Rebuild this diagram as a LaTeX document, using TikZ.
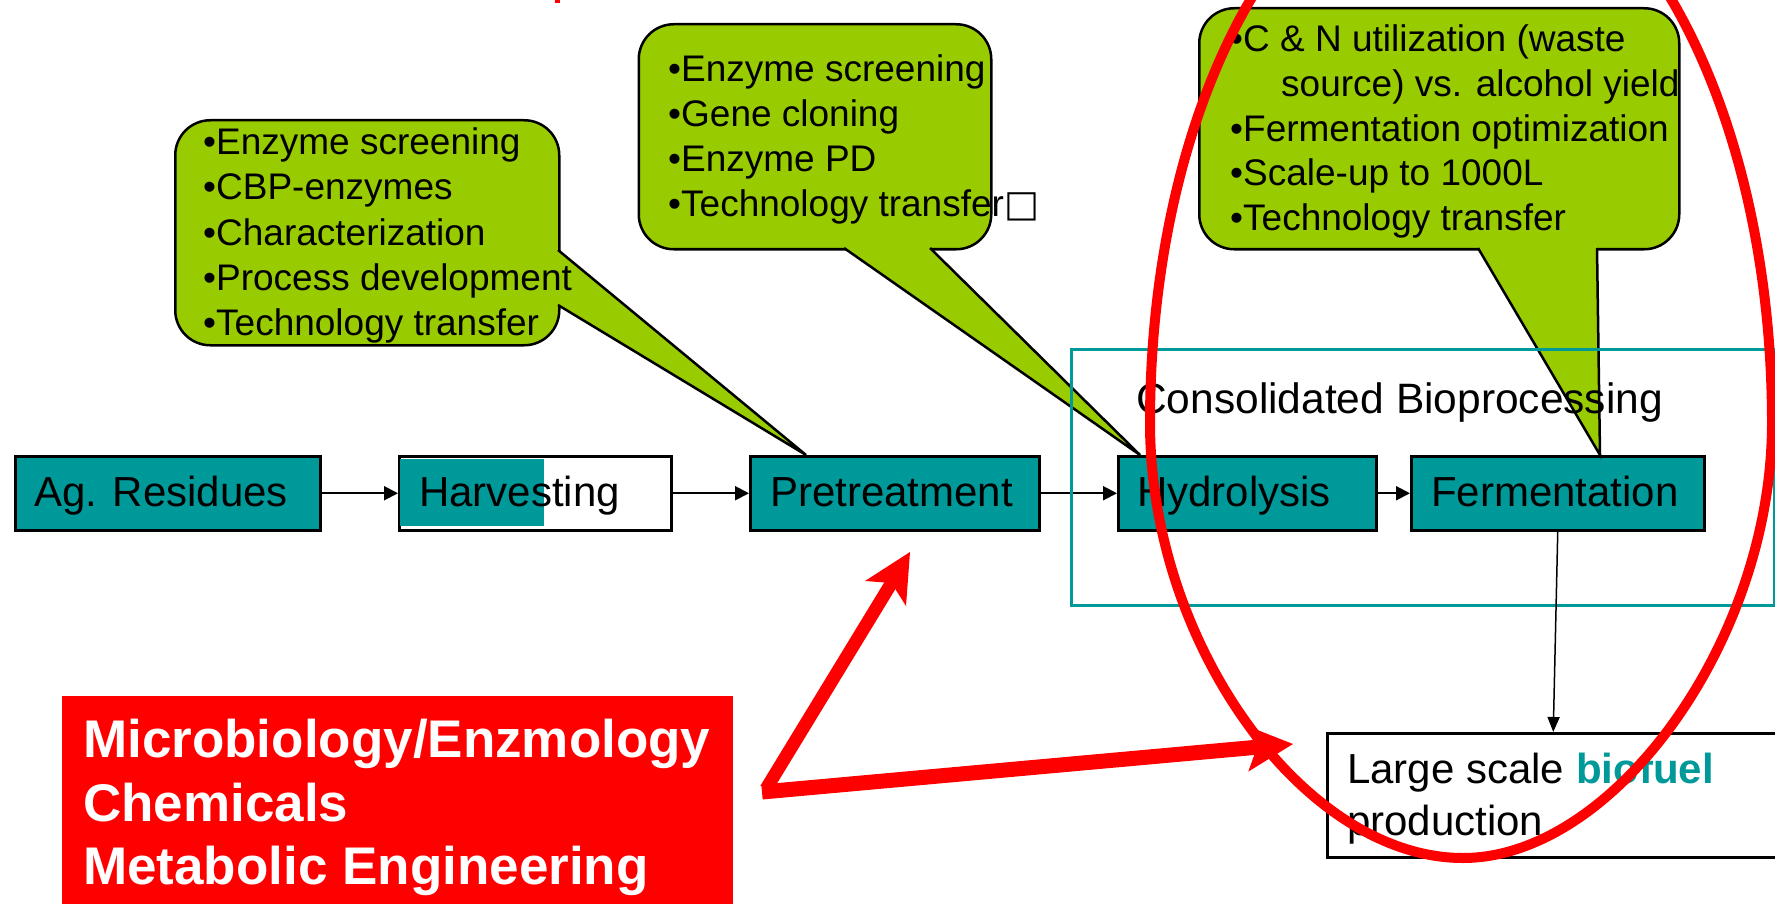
\documentclass[tikz,border=0pt]{standalone}
\usepackage{fontspec}
\setmainfont{Liberation Sans}
\newfontfamily\glyphfont{DejaVu Sans}
\usetikzlibrary{arrows.meta}

\definecolor{cbpteal}{RGB}{0,153,153}
\definecolor{leaf}{RGB}{153,204,0}
\definecolor{alert}{RGB}{255,0,0}

\newcommand\stagefont{\fontsize{42pt}{50pt}\selectfont}
\newcommand\bubblefont{\fontsize{37pt}{45pt}\selectfont}
\newcommand\notefont{\fontsize{53pt}{64pt}\selectfont\bfseries}

\tikzset{
  stage/.style={draw=black, line width=2.5pt, fill=cbpteal, inner sep=0pt,
                minimum height=74pt, anchor=north west},
  plainbox/.style={draw=black, line width=2.5pt, fill=white, inner sep=0pt, anchor=north west},
  bubble/.style={draw=black, line width=2.5pt, fill=leaf, rounded corners=35pt,
                 inner sep=0pt, anchor=north west},
  tail/.style={fill=leaf},
  tailedge/.style={draw=black, line width=2.5pt, line join=miter},
  txt/.style={anchor=base west, inner sep=0pt, font=\stagefont},
  btxt/.style={anchor=base west, inner sep=0pt, font=\bubblefont},
  ntxt/.style={anchor=base west, inner sep=0pt, font=\notefont, text=white},
  flow/.style={draw=black, line width=2pt, -{Triangle[length=14pt,width=14pt]}},
  thinflow/.style={draw=black, line width=1.5pt, -{Triangle[length=15pt,width=12pt]}},
  redshaft/.style={draw=alert},
}

\begin{document}
\begin{tikzpicture}[x=1pt,y=-1pt]
\useasboundingbox (0,0) rectangle (1775,904);
\clip (0,0) rectangle (1775,904);
\fill[white] (0,0) rectangle (1775,904);

% cropped fragment of a red heading at the top edge
\fill[alert] (555,0) rectangle (560,3);

% ---------- process chain ----------
\node[stage, minimum width=305pt] (ag) at (14,455) {};
\node[plainbox, minimum width=272pt, minimum height=74pt] (harv) at (398,455) {};
\fill[cbpteal] (400,459) rectangle (544,526);
\node[stage, minimum width=289pt] (pre) at (749,455) {};
\node[stage, minimum width=258pt] (hyd) at (1117,455) {};
\node[stage, minimum width=293pt] (ferm) at (1410,455) {};

\node[txt] (ag-t) at (34,506) {Ag. Residues};
\node[txt] (harv-t) at (419,506) {Harvesting};
\node[txt] (pre-t) at (770,506) {Pretreatment};
\node[txt] (hyd-t) at (1137,506) {Hydrolysis};
\node[txt] (ferm-t) at (1431,506) {Fermentation};

\draw[flow] (ag) -- (harv);
\draw[flow] (harv) -- (pre);
\draw[flow] (pre) -- (hyd);
\draw[flow] (hyd) -- (ferm);

% ---------- callout bubbles ----------
% left bubble, pointing at Pretreatment
\node[bubble, minimum width=384pt, minimum height=225pt] (c1) at (174,119) {};
\coordinate (c1-tip) at ([xshift=57pt]pre.north west);
\fill[tail] (553,250) -- (558,250) -- (c1-tip) -- (558,305) -- (553,305) -- cycle;
\draw[tailedge] (558,250) -- (c1-tip) -- (558,305);
\foreach \line [count=\i] in {Enzyme screening, CBP-enzymes, Characterization,
                              Process development, Technology transfer}
  \node[btxt] (c1-\i) at (203,{155+45*(\i-1)}) {•\line};

% middle bubble, pointing at Hydrolysis
\node[bubble, minimum width=352.5pt, minimum height=225pt] (c2) at (637.5,23) {};
\coordinate (c2-tip) at ([xshift=23pt]hyd.north west);
\fill[tail] (844,243) -- (844,248) -- (c2-tip) -- (930,248) -- (930,243) -- cycle;
\draw[tailedge] (844,248) -- (c2-tip) -- (930,248);
\node[btxt] (c2-1) at (668,82) {•Enzyme screening};
\node[btxt] (c2-2) at (668,127) {•Gene cloning};
\node[btxt] (c2-3) at (668,172) {•Enzyme PD};
\node[btxt] (c2-4) at (668,217) {•Technology transfer{\glyphfont □}};

% right bubble, pointing at Fermentation
\node[bubble, minimum width=480pt, minimum height=241pt] (c3) at (1198,7) {};
\coordinate (c3-tip) at ([xshift=190pt]ferm.north west);
\fill[tail] (1478,243) -- (1478,248) -- (c3-tip) -- (1597,248) -- (1597,243) -- cycle;
\draw[tailedge] (1478,248) -- (c3-tip) -- (1597,248);
\node[btxt] (c3-1) at (1230,52) {•C \& N utilization (waste};
\node[btxt] (c3-2) at (1281,97) {source) vs. alcohol yield};
\node[btxt] (c3-3) at (1230,142) {•Fermentation optimization};
\node[btxt] (c3-4) at (1230,186) {•Scale-up to 1000L};
\node[btxt] (c3-5) at (1230,230) {•Technology transfer};

% ---------- consolidated bioprocessing frame ----------
\node[draw=cbpteal, line width=2.5pt, inner sep=0pt, anchor=north west,
      minimum width=703pt, minimum height=256pt] (cbp) at (1070,348) {};
\node[txt] (cbp-t) at (1136,413) {\fontsize{42.5pt}{50pt}\selectfont Consolidated Bioprocessing};

% ---------- product ----------
\node[plainbox, minimum width=480pt, minimum height=124pt] (large) at (1326,732) {};
\node[txt] (large-1) at (1347,783) {Large scale \textbf{\color{cbpteal}biofuel}};
\node[txt] (large-2) at (1347,835) {production};
\draw[thinflow] (ferm.south) -- ([xshift=-14pt]large.north);

% ---------- expertise note ----------
\node[fill=alert, inner sep=0pt, anchor=north west,
      minimum width=671pt, minimum height=220pt] (note) at (62,696) {};
\node[ntxt] (note-1) at (83,757) {Microbiology/Enzmology};
\node[ntxt] (note-2) at (83,821) {Chemicals};
\node[ntxt] (note-3) at (83,884) {Metabolic Engineering};

% thick red arrows
\coordinate (ra-tail) at (766,789);
\coordinate (ra-notch) at (891.5,583);
\coordinate (ra-tip) at (910,552);
\coordinate (ra-l) at (865,581);
\coordinate (ra-r) at (906,606);
\draw[redshaft, line width=13pt] (ra-tail) -- (ra-notch);
\fill[alert] (ra-tip) -- (ra-l) -- (ra-notch) -- (ra-r) -- cycle;

\coordinate (rb-tail) at (762,792);
\coordinate (rb-notch) at (1257,747.2);
\coordinate (rb-tip) at (1293,744);
\coordinate (rb-u) at (1244.1,724.8);
\coordinate (rb-d) at (1248.3,771.6);
\draw[redshaft, line width=15pt] (rb-tail) -- (rb-notch);
\fill[alert] (rb-tip) -- (rb-u) -- (rb-notch) -- (rb-d) -- cycle;

% red loop around the CBP stages
\draw[alert, line width=10pt]
  (1772,423) .. controls (1772,640) and (1614,858) .. (1463,858)
             .. controls (1305,858) and (1150,645) .. (1150,423)
             .. controls (1150,105.4) and (1289.2,-152) .. (1461,-152)
             .. controls (1632.8,-152) and (1772,105.4) .. (1772,423) -- cycle;
\end{tikzpicture}
\end{document}
